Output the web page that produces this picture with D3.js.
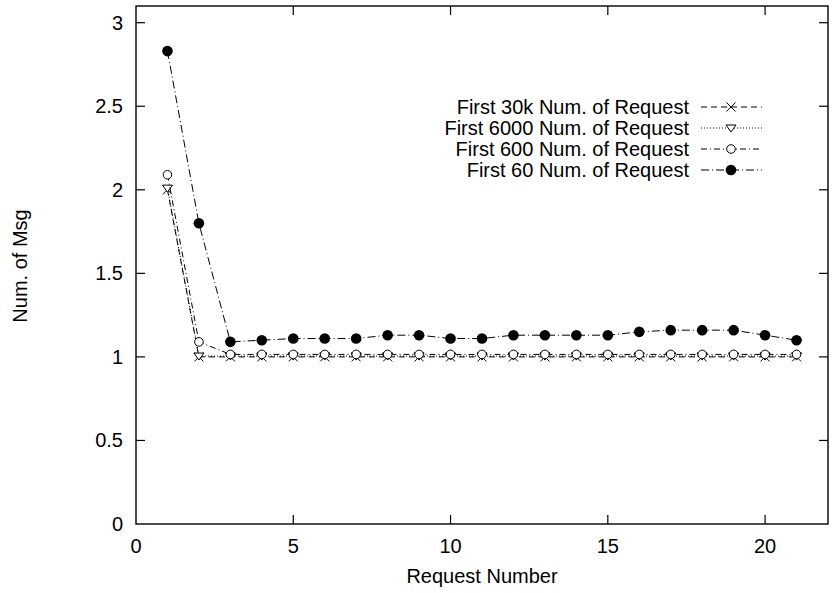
<!DOCTYPE html>
<html>
<head>
<meta charset="utf-8">
<script src="https://cdn.jsdelivr.net/npm/d3@7"></script>
<style>
  body { margin: 0; background: #fff; }
  svg { font-family: "Liberation Sans", Arial, sans-serif; }
</style>
</head>
<body>
<div id="chart"></div>
<script>
// request numbers on x axis
const requestNumbers = [1, 2, 3, 4, 5, 6, 7, 8, 9, 10, 11, 12, 13, 14, 15, 16, 17, 18, 19, 20, 21];

// series values
const first30k = [2.0, 1.0, 1.0, 1.0, 1.0, 1.0, 1.0, 1.0, 1.0, 1.0, 1.0, 1.0, 1.0, 1.0, 1.0, 1.0, 1.0, 1.0, 1.0, 1.0, 1.0];
const first6000 = [2.01, 1.005, 1.005, 1.005, 1.005, 1.005, 1.005, 1.005, 1.005, 1.005, 1.005, 1.005, 1.005, 1.005, 1.005, 1.005, 1.005, 1.005, 1.005, 1.005, 1.005];
const first600 = [2.09, 1.09, 1.015, 1.015, 1.015, 1.015, 1.015, 1.015, 1.015, 1.015, 1.015, 1.015, 1.015, 1.015, 1.015, 1.015, 1.015, 1.015, 1.015, 1.015, 1.015];
const first60 = [2.83, 1.80, 1.09, 1.10, 1.11, 1.11, 1.11, 1.13, 1.13, 1.11, 1.11, 1.13, 1.13, 1.13, 1.13, 1.15, 1.16, 1.16, 1.16, 1.13, 1.10];

const seriesNames = [
  "First 30k Num. of Request",
  "First 6000 Num. of Request",
  "First 600 Num. of Request",
  "First 60 Num. of Request"
];

const xTicks = [0, 5, 10, 15, 20];
const yTicks = [0, 0.5, 1, 1.5, 2, 2.5, 3];

const w = 833, h = 593;
const margin = { top: 6, right: 5, bottom: 69, left: 136 };
const fontSize = 20;

const svg = d3.select("#chart")
  .append("svg")
  .attr("width", w)
  .attr("height", h);

const x = d3.scaleLinear().domain([0, 22]).range([margin.left, w - margin.right]);
const y = d3.scaleLinear().domain([0, 3.1]).range([h - margin.bottom, margin.top]);

const frameL = x(0), frameR = x(22), frameT = y(3.1), frameB = y(0);

// gnuplot-ish style: ticks inside, mirrored
const tickLen = 9;
const axes = svg.append("g").attr("stroke", "#000").attr("stroke-width", 1.2);

xTicks.forEach(t => {
  if (t === 0) return;
  axes.append("line").attr("x1", x(t)).attr("x2", x(t)).attr("y1", frameB).attr("y2", frameB - tickLen);
  axes.append("line").attr("x1", x(t)).attr("x2", x(t)).attr("y1", frameT).attr("y2", frameT + tickLen);
});
yTicks.forEach(t => {
  if (t === 0) return;
  axes.append("line").attr("x1", frameL).attr("x2", frameL + tickLen).attr("y1", y(t)).attr("y2", y(t));
  axes.append("line").attr("x1", frameR).attr("x2", frameR - tickLen).attr("y1", y(t)).attr("y2", y(t));
});

svg.append("g")
  .selectAll("text")
  .data(xTicks)
  .join("text")
  .attr("x", d => x(d))
  .attr("y", frameB + 29)
  .attr("text-anchor", "middle")
  .attr("font-size", fontSize)
  .text(d => d);

svg.append("g")
  .selectAll("text")
  .data(yTicks)
  .join("text")
  .attr("x", frameL - 13)
  .attr("y", d => y(d) + 7)
  .attr("text-anchor", "end")
  .attr("font-size", fontSize)
  .text(d => d);

// axis titles
svg.append("text")
  .attr("x", 482)
  .attr("y", frameB + 59)
  .attr("text-anchor", "middle")
  .attr("font-size", fontSize)
  .text("Request Number");

svg.append("text")
  .attr("transform", `translate(27, 266) rotate(-90)`)
  .attr("text-anchor", "middle")
  .attr("font-size", fontSize)
  .text("Num. of Msg");

// series styles
const styles = [
  { data: first30k, dash: "6,4", marker: "cross" },
  { data: first6000, dash: "1,2", marker: "tri" },
  { data: first600, dash: "6,3,1,3", marker: "circle" },
  { data: first60, dash: "8,3,1,3", marker: "dot" }
];

const line = d3.line()
  .x((d, i) => x(requestNumbers[i]))
  .y(d => y(d));

function drawMarker(g, kind, cx, cy) {
  if (kind === "cross") {
    const s = 4.5;
    g.append("path")
      .attr("d", `M${cx - s},${cy - s}L${cx + s},${cy + s}M${cx - s},${cy + s}L${cx + s},${cy - s}`)
      .attr("stroke", "#000").attr("stroke-width", 1).attr("fill", "none");
  } else if (kind === "tri") {
    const s = 5;
    g.append("path")
      .attr("d", `M${cx - s},${cy - s * 0.6}L${cx + s},${cy - s * 0.6}L${cx},${cy + s * 0.8}Z`)
      .attr("stroke", "#000").attr("stroke-width", 1).attr("fill", "#fff");
  } else if (kind === "circle") {
    g.append("circle")
      .attr("cx", cx).attr("cy", cy).attr("r", 4.3)
      .attr("stroke", "#000").attr("stroke-width", 1).attr("fill", "#fff");
  } else {
    g.append("circle")
      .attr("cx", cx).attr("cy", cy).attr("r", 5.3)
      .attr("fill", "#000");
  }
}

const plot = svg.append("g");
styles.forEach(s => {
  plot.append("path")
    .datum(s.data)
    .attr("d", line)
    .attr("fill", "none")
    .attr("stroke", "#000")
    .attr("stroke-width", 1)
    .attr("stroke-dasharray", s.dash);
  const mg = plot.append("g");
  s.data.forEach((v, i) => drawMarker(mg, s.marker, x(requestNumbers[i]), y(v)));
});

// legend
const legend = svg.append("g");
styles.forEach((s, i) => {
  const ly = 107 + i * 21;
  legend.append("text")
    .attr("x", 689)
    .attr("y", ly + 7)
    .attr("text-anchor", "end")
    .attr("font-size", fontSize)
    .text(seriesNames[i]);
  legend.append("line")
    .attr("x1", 701).attr("x2", 762)
    .attr("y1", ly).attr("y2", ly)
    .attr("stroke", "#000").attr("stroke-width", 1)
    .attr("stroke-dasharray", s.dash);
  drawMarker(legend, s.marker, 731, ly);
});

// frame
svg.append("rect")
  .attr("x", frameL).attr("y", frameT)
  .attr("width", frameR - frameL).attr("height", frameB - frameT)
  .attr("fill", "none")
  .attr("stroke", "#000")
  .attr("stroke-width", 1.4);
</script>
</body>
</html>
